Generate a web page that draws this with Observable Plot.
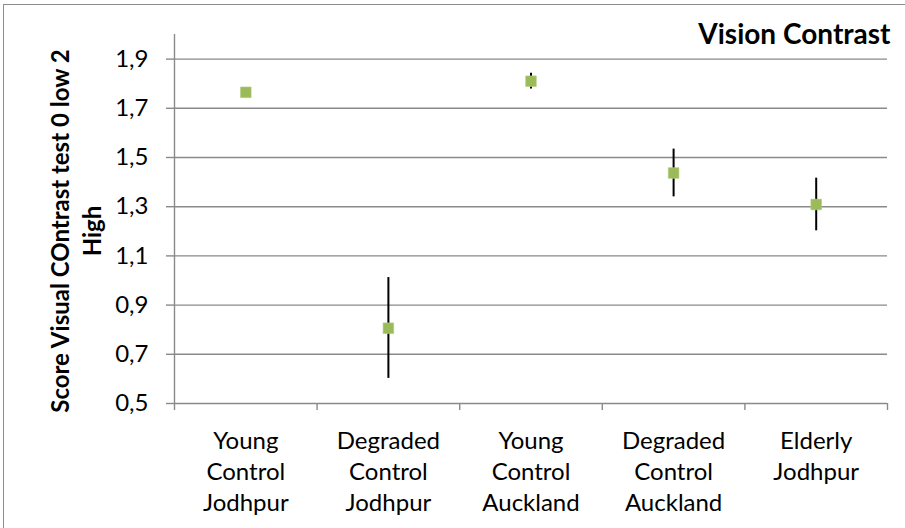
<!DOCTYPE html>
<html>
<head>
<meta charset="utf-8">
<script src="https://cdn.jsdelivr.net/npm/d3@7"></script>
<script src="https://cdn.jsdelivr.net/npm/@observablehq/plot@0.6"></script>
<style>
  html, body { margin: 0; padding: 0; background: #fff; overflow: hidden; }
  #wrap { position: relative; width: 905px; height: 528px; overflow: hidden; }
  #border { position: absolute; left: 3px; top: 4px; width: 1000px; height: 1000px; border: 1.5px solid #8c8c8c; box-sizing: border-box; pointer-events: none; }
  #chart svg { display: block; }
</style>
</head>
<body>
<div id="wrap"><div id="chart"></div><div id="border"></div></div>
<script>
const categories = ["Young\nControl\nJodhpur", "Degraded\nControl\nJodhpur", "Young\nControl\nAuckland", "Degraded\nControl\nAuckland", "Elderly\nJodhpur"];
const means = [1.765, 0.806, 1.81, 1.437, 1.309];
const lower = [1.76, 0.602, 1.778, 1.34, 1.202];
const upper = [1.77, 1.012, 1.842, 1.534, 1.416];
const yTicks = [0.5, 0.7, 0.9, 1.1, 1.3, 1.5, 1.7, 1.9];
const xBounds = [0, 1, 2, 3, 4, 5];
const title = "Vision Contrast";
const yLabel = "Score Visual COntrast test 0 low 2\nHigh";

const data = categories.map((c, i) => ({cat: c, pos: i + 0.5, mean: means[i], lo: lower[i], hi: upper[i]}));
const font = "Lato, 'Open Sans', sans-serif";
const gray = "#8a8a8a";

const chart = Plot.plot({
  width: 905,
  height: 528,
  marginLeft: 174,
  marginRight: 18,
  marginTop: 34,
  marginBottom: 125,
  style: {fontFamily: font, color: "#000", background: "transparent"},
  x: {domain: [0, 5], axis: null},
  y: {domain: [0.5, 2.0], axis: null},
  marks: [
    Plot.ruleY(yTicks, {stroke: gray, strokeWidth: 1.4}),
    Plot.ruleX([0], {stroke: gray, strokeWidth: 1.4}),
    Plot.axisY({ticks: yTicks, tickSize: 8, tickPadding: 18, stroke: gray, strokeWidth: 1.4, fontSize: 24, fill: "#000", tickFormat: d => d.toFixed(1).replace(".", ","), label: null}),
    Plot.axisX({ticks: xBounds, tickSize: 7, stroke: gray, strokeWidth: 1.4, tickFormat: () => "", label: null}),
    Plot.text(data, {x: "pos", y: () => 0.5, text: "cat", lineAnchor: "top", dy: 23, fontSize: 24, lineHeight: 1.3, fill: "#000"}),
    Plot.ruleX(data, {x: "pos", y1: "lo", y2: "hi", stroke: "#000", strokeWidth: 2}),
    Plot.dot(data, {x: "pos", y: "mean", symbol: "square", r: 6, fill: "#9BBB59", stroke: "#b3cc80", strokeWidth: 0.6}),
    Plot.text([title], {frameAnchor: "top-right", text: d => d, lineAnchor: "bottom", dy: 9, dx: 3, fontSize: 28, fontWeight: "bold", fill: "#000"}),
    Plot.text([yLabel], {frameAnchor: "left", text: d => d, rotate: -90, lineAnchor: "middle", textAnchor: "middle", dx: -100, dy: 12, fontSize: 24, fontWeight: "bold", lineHeight: 1.35, fill: "#000"})
  ]
});
document.getElementById("chart").appendChild(chart);
</script>
</body>
</html>
